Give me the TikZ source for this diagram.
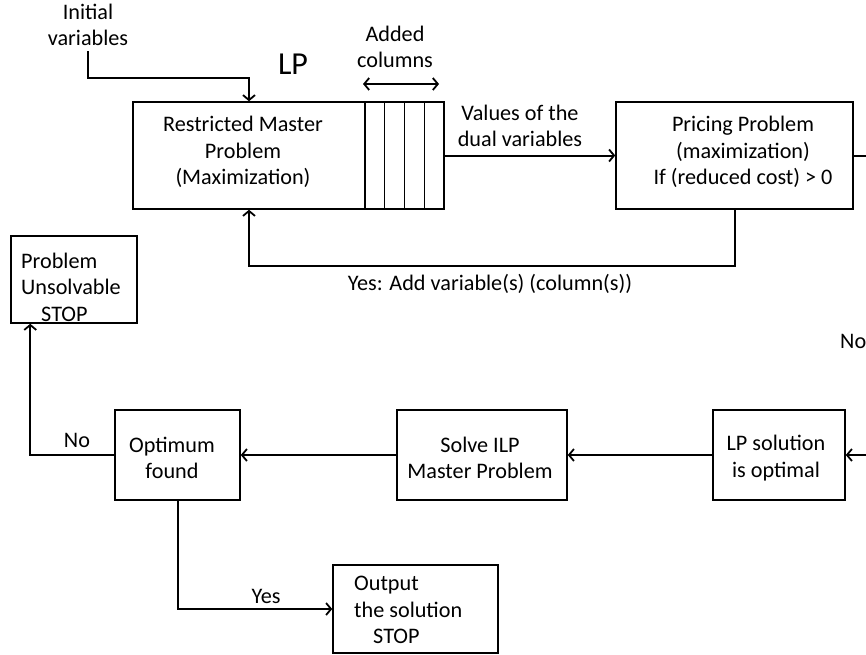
\documentclass[tikz,border=0pt]{standalone}
\usepackage{fontspec}
\setmainfont{Carlito}
\usetikzlibrary{arrows.meta}
\begin{document}
\begin{tikzpicture}[x=1pt,y=-1pt,
  box/.style={draw, line width=1.5pt, inner sep=0pt},
  txt/.style={font=\fontsize{22.2}{26.5}\selectfont, align=center, inner sep=0pt},
  conn/.style={line width=2pt},
  arr/.style={line width=2pt, -{Straight Barb[length=5pt,width=12pt,line width=1.8pt]}},
  darr/.style={line width=2pt, {Straight Barb[length=5pt,width=12pt,line width=1.8pt]}-{Straight Barb[length=5pt,width=12pt,line width=1.8pt]}}]
\useasboundingbox (0,0) rectangle (866,654);
% top row
\node[box, minimum width=232pt, minimum height=107pt] (rmp) at (249,155.5) {};
\node[txt] (rmpt) at (243,152) {Restricted Master\\Problem\\(Maximization)};
\node[box, minimum width=79pt, minimum height=107pt] (cols) at (404.5,155.5) {};
\foreach \d in {20,40,60}{
  \draw[line width=1.5pt] ([xshift=\d pt]cols.north west) -- ([xshift=\d pt]cols.south west);}
\node[box, minimum width=237pt, minimum height=107pt] (pric) at (734.5,155.5) {};
\node[txt] (prict) at (743,152) {Pricing Problem\\(maximization)\\If (reduced cost) {>} 0};
\node[txt] (init) at (88,25) {Initial\\variables};
\node[font=\fontsize{32}{36}\selectfont, inner sep=0pt] (lp) at (293,64) {LP};
\node[txt] (added) at (395,47) {Added\\columns};
\coordinate (ac1) at (363,84);
\coordinate (ac2) at (439,84);
\draw[darr] (ac1) -- (ac2);
\coordinate (ib) at (249,78);
\draw[arr] (init.south) ++(0,5) |- (ib) -- (rmp.north);
\draw[arr] (cols.east) -- (pric.west);
\node[txt] (vals) at (520,126) {Values of the\\dual variables};
\draw[arr] (pric.south) -- ++(0,56) -| (rmp.south);
\node[txt] (yes1) at (490,284) {Yes: Add variable(s) (column(s))};
\coordinate (re1) at (866,155.5);
\draw[conn] (pric.east) -- (re1);
\node[txt, anchor=west] (no1) at (840,341) {No};
% middle / bottom
\node[box, minimum width=126pt, minimum height=87pt] (uns) at (74,279.5) {};
\node[txt, align=left, anchor=west] (unst) at (21,287) {Problem\\Unsolvable\\\hspace*{20pt}STOP};
\node[box, minimum width=125pt, minimum height=90pt] (opt) at (177.5,455) {};
\node[txt] (optt) at (172,458) {Optimum\\found};
\node[box, minimum width=170pt, minimum height=90pt] (ilp) at (482,455) {};
\node[txt] (ilpt) at (480,458) {Solve ILP\\Master Problem};
\node[box, minimum width=132pt, minimum height=90pt] (lps) at (779,455) {};
\node[txt] (lpst) at (776,458) {LP solution\\is optimal};
\node[box, minimum width=165pt, minimum height=88pt] (out) at (415.5,609) {};
\node[txt, align=left, anchor=west] (outt) at (354,610) {Output\\the solution\\\hspace*{19pt}STOP};
\coordinate (re2) at (866,455);
\draw[arr] (re2) -- (lps.east);
\draw[arr] (lps.west) -- (ilp.east);
\draw[arr] (ilp.west) -- (opt.east);
\draw[arr] (opt.west) -| ([xshift=20pt]uns.south west);
\node[txt] (no2) at (77,440) {No};
\draw[arr] (opt.south) |- (out.west);
\node[txt] (yes2) at (266,596) {Yes};
\end{tikzpicture}
\end{document}
